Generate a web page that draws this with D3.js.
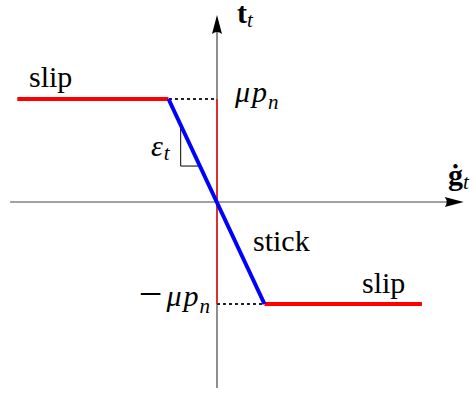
<!DOCTYPE html>
<html><head><meta charset="utf-8">
<script src="https://cdn.jsdelivr.net/npm/d3@7"></script>
<style>body{margin:0;background:#fff}svg{display:block}</style>
</head><body>
<svg id="c" width="472" height="396"></svg>
<script>
// data (normalised: slip gap = ±1, traction = ±μp_n)
const muPn = 1;
const gStick = 1;
const slipLeft = [[-4.15, 1], [-1, 1]];
const stickLine = [[-1, 1], [1, -1]];
const slipRight = [[1, -1], [4.28, -1]];
const triangle = [[-0.746, 0.727], [-0.746, 0.346], [-0.37, 0.346]];
const xAxisExtent = [-4.3, 5.15];
const yAxisExtent = [-1.82, 1.82];

const svg = d3.select("#c");
const x = d3.scaleLinear().domain([-1, 1]).range([168.5, 264.5]);
const y = d3.scaleLinear().domain([-1, 1]).range([304, 99]);
const line = d3.line().x(d => x(d[0])).y(d => y(d[1]));
const x0 = 217, y0 = 202;

// axes
svg.append("line").attr("x1", x(xAxisExtent[0])).attr("x2", x(xAxisExtent[1]) - 8)
  .attr("y1", y0).attr("y2", y0).attr("stroke", "#444").attr("stroke-width", 1.2);
svg.append("line").attr("x1", x0).attr("x2", x0)
  .attr("y1", y(yAxisExtent[0])).attr("y2", y(yAxisExtent[1]) + 8)
  .attr("stroke", "#444").attr("stroke-width", 1.2);
// arrowheads
const hx = x(xAxisExtent[1]), vy = y(yAxisExtent[1]);
svg.append("path").attr("d", `M${hx},${y0} L${hx-19},${y0-5} Q${hx-15},${y0} ${hx-19},${y0+5} Z`).attr("fill", "#000");
svg.append("path").attr("d", `M${x0},${vy} L${x0-5},${vy+19} Q${x0},${vy+15} ${x0+5},${vy+19} Z`).attr("fill", "#000");

// dashed helpers
svg.append("line").attr("x1", x(-gStick)).attr("x2", x0).attr("y1", y(muPn)).attr("y2", y(muPn))
  .attr("stroke", "#222").attr("stroke-width", 1.1).attr("stroke-dasharray", "3,3").attr("shape-rendering", "crispEdges");
svg.append("line").attr("x1", x0).attr("x2", x(gStick)).attr("y1", y(-muPn)).attr("y2", y(-muPn))
  .attr("stroke", "#222").attr("stroke-width", 1.1).attr("stroke-dasharray", "3,3").attr("shape-rendering", "crispEdges");
// thin red vertical
svg.append("line").attr("x1", x0).attr("x2", x0).attr("y1", y(muPn)).attr("y2", y(-muPn))
  .attr("stroke", "#f00").attr("stroke-width", 1.3);

// triangle
svg.append("path").attr("d", line(triangle)).attr("fill", "none").attr("stroke", "#000").attr("stroke-width", 1);

// main lines
svg.append("path").attr("d", line(slipLeft)).attr("fill", "none").attr("stroke", "#f00").attr("stroke-width", 4);
svg.append("path").attr("d", line(slipRight)).attr("fill", "none").attr("stroke", "#f00").attr("stroke-width", 4);
svg.append("path").attr("d", line(stickLine)).attr("fill", "none").attr("stroke", "#00f").attr("stroke-width", 4);

// labels
const fs = 30;
const FAM = '"Liberation Serif"';
function label(px, py, parts, anchor) {
  const t = svg.append("text").attr("x", px).attr("y", py)
    .style("font-family", FAM)
    .style("font-size", fs + "px")
    .attr("fill", "#000")
    .attr("text-anchor", anchor || "start");
  if (parts.length === 1 && !parts[0].i && !parts[0].b) { t.text(parts[0].t); return t; }
  parts.forEach(p => {
    const s = t.append("tspan").text(p.t).style("font-family", FAM);
    if (p.i) s.style("font-style", "italic");
    if (p.b) s.style("font-weight", "bold");
    if (p.dx) s.attr("dx", p.dx);
    if (p.size) s.style("font-size", p.size + "px");
    if (p.dy) s.attr("dy", p.dy);
    if (p.sub) s.style("font-size", (fs * 0.7) + "px").attr("dy", p.sub);
  });
  return t;
}
label(29, 87, [{t: "slip"}]);
label(362, 293, [{t: "slip"}]);
label(253, 251, [{t: "stick"}]);
label(235, 102, [{t: "μ", i: 1}, {t: "p", i: 1, dx: 2}, {t: "n", i: 1, sub: 7, dx: 1}]);
label(210, 306, [{t: "−", size: 42, dy: 2}, {t: "μ", i: 1, dx: 4, dy: -2}, {t: "p", i: 1, dx: 2}, {t: "n", i: 1, sub: 7, dx: 1}], "end");
label(151, 156, [{t: "ε", i: 1}, {t: "t", i: 1, sub: 4, dx: 1}]);
label(237, 23, [{t: "t", b: 1}, {t: "t", i: 1, sub: 4}]);
label(448, 185, [{t: "ġ", b: 1}, {t: "t", i: 1, sub: 4}]);
</script>
</body></html>
